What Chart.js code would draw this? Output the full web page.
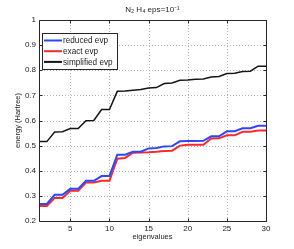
<!DOCTYPE html>
<html>
<head>
<meta charset="utf-8">
<script src="https://cdn.jsdelivr.net/npm/chart.js@4.4.0/dist/chart.umd.min.js"></script>
<style>
html,body{margin:0;padding:0;background:#fff;}
#wrap{width:294px;height:249px;position:relative;}
</style>
</head>
<body>
<div id="wrap"><canvas id="c" width="294" height="249"></canvas></div>
<script>
const eigenvalues = [1,2,3,4,5,6,7,8,9,10,11,12,13,14,15,16,17,18,19,20,21,22,23,24,25,26,27,28,29,30];
const reducedEvp = [0.268,0.268,0.304,0.304,0.328,0.328,0.360,0.360,0.379,0.379,0.464,0.464,0.476,0.476,0.489,0.491,0.497,0.498,0.517,0.518,0.518,0.519,0.537,0.537,0.557,0.557,0.569,0.569,0.579,0.579];
const exactEvp = [0.260,0.260,0.292,0.292,0.320,0.320,0.353,0.353,0.360,0.360,0.448,0.451,0.472,0.473,0.474,0.476,0.479,0.480,0.500,0.503,0.503,0.503,0.528,0.529,0.541,0.541,0.555,0.555,0.560,0.560];
const simplifiedEvp = [0.516,0.516,0.554,0.555,0.568,0.568,0.599,0.600,0.644,0.644,0.716,0.717,0.720,0.723,0.729,0.731,0.747,0.749,0.760,0.761,0.764,0.765,0.773,0.775,0.787,0.788,0.795,0.796,0.816,0.816];
const xTicks = [5,10,15,20,25,30];
const yTicks = [0.2,0.3,0.4,0.5,0.6,0.7,0.8,0.9,1];
const titleText = 'N\u2082 H\u2084 eps=10\u207B\u00B9';

const FONT = '"Liberation Sans", Arial, Helvetica, sans-serif';
const toPts = arr => arr.map((v,i)=>({x:eigenvalues[i], y:v}));

const gridPlugin = {
  id:'dotgrid',
  beforeDatasetsDraw(chart){
    const {ctx, chartArea:a, scales} = chart;
    const L=Math.round(a.left), R=Math.round(a.right), T=Math.round(a.top), B=Math.round(a.bottom);
    ctx.save();
    ctx.fillStyle = '#b4b4b4';
    scales.x.ticks.forEach(t=>{
      const px = Math.round(scales.x.getPixelForValue(t.value));
      if (px<=L+1 || px>=R-1) return;
      for (let y=T+2; y<B-1; y+=3) ctx.fillRect(px,y,1,1);
    });
    scales.y.ticks.forEach(t=>{
      const py = Math.round(scales.y.getPixelForValue(t.value));
      if (py<=T+1 || py>=B-1) return;
      for (let x=L+2; x<R-1; x+=3) ctx.fillRect(x,py,1,1);
    });
    ctx.restore();
  },
  afterDraw(chart){
    const {ctx, chartArea:a, scales} = chart;
    ctx.save();
    ctx.strokeStyle = '#262626';
    ctx.lineWidth = 1;
    ctx.beginPath();
    const L=Math.round(a.left)+0.5, R=Math.round(a.right)+0.5, T=Math.round(a.top)+0.5, B=Math.round(a.bottom)+0.5;
    ctx.rect(L,T,R-L,B-T);
    const tl = 3;
    scales.x.ticks.forEach(t=>{
      const px = Math.round(scales.x.getPixelForValue(t.value))+0.5;
      ctx.moveTo(px,B); ctx.lineTo(px,B-tl);
      ctx.moveTo(px,T); ctx.lineTo(px,T+tl);
    });
    scales.y.ticks.forEach(t=>{
      const py = Math.round(scales.y.getPixelForValue(t.value))+0.5;
      ctx.moveTo(L,py); ctx.lineTo(L+tl,py);
      ctx.moveTo(R,py); ctx.lineTo(R-tl,py);
    });
    ctx.stroke();
    // legend
    const lx=42.5, ly=33.5, lw=75, lh=36;
    ctx.fillStyle='#fff';
    ctx.fillRect(lx,ly,lw,lh);
    ctx.strokeStyle='#262626';
    ctx.strokeRect(lx,ly,lw,lh);
    ctx.font = '8.2px ' + FONT;
    ctx.textBaseline='middle';
    ctx.textAlign='left';
    chart.data.datasets.forEach((ds,i)=>{
      const yy = ly + 7 + i*10.7;
      ctx.strokeStyle = ds.borderColor;
      ctx.lineWidth = 2;
      ctx.beginPath();
      ctx.moveTo(lx+1.5, yy); ctx.lineTo(lx+19.5, yy);
      ctx.stroke();
      ctx.fillStyle='#222';
      ctx.fillText(ds.label, lx+20.5, yy+0.5);
    });
    ctx.restore();
  }
};

new Chart(document.getElementById('c'), {
  type:'line',
  data:{
    datasets:[
      {label:'reduced evp', data:toPts(reducedEvp), borderColor:'rgb(45,70,255)', borderWidth:2, pointRadius:0, fill:false, tension:0},
      {label:'exact evp', data:toPts(exactEvp), borderColor:'rgb(255,40,40)', borderWidth:2, pointRadius:0, fill:false, tension:0},
      {label:'simplified evp', data:toPts(simplifiedEvp), borderColor:'rgb(20,20,20)', borderWidth:1.5, pointRadius:0, fill:false, tension:0}
    ]
  },
  options:{
    responsive:false,
    animation:false,
    devicePixelRatio:1,
    layout:{padding:{left:0, right:28, top:0, bottom:0}},
    plugins:{
      legend:{display:false},
      tooltip:{enabled:false},
      title:{display:true, text:titleText, fullSize:false, color:'#222',
        font:{family:FONT, size:8, weight:'normal', lineHeight:1}, padding:{top:5.5, bottom:6.5}}
    },
    scales:{
      x:{
        type:'linear', min:1, max:30,
        afterBuildTicks(s){ s.ticks = xTicks.map(v=>({value:v})); },
        afterFit(s){ s.height = 28; },
        grid:{display:false, drawTicks:false},
        border:{display:false},
        ticks:{color:'#222', font:{family:FONT, size:8}, padding:3, maxRotation:0, callback:v=>String(v)},
        title:{display:true, text:'eigenvalues', color:'#222', font:{family:FONT, size:7.5}, padding:{top:0,bottom:8}}
      },
      y:{
        type:'linear', min:0.2, max:1,
        afterBuildTicks(s){ s.ticks = yTicks.map(v=>({value:v})); },
        afterFit(s){ s.width = 39; },
        grid:{display:false, drawTicks:false},
        border:{display:false},
        ticks:{color:'#222', font:{family:FONT, size:8}, padding:3, callback:v=>String(Math.round(v*10)/10)},
        title:{display:true, text:'energy (Hartree)', color:'#222', font:{family:FONT, size:7.5}, padding:{top:13,bottom:0}}
      }
    }
  },
  plugins:[gridPlugin]
});
</script>
</body>
</html>
